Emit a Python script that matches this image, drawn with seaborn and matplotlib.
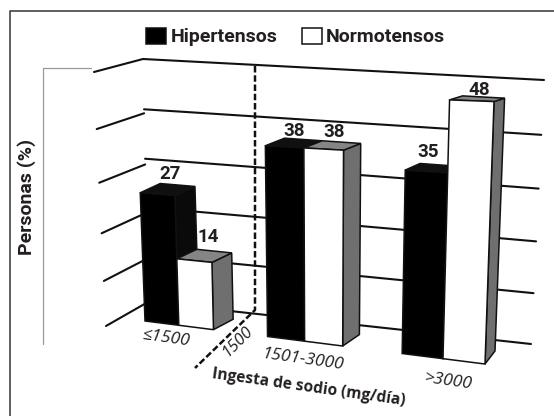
import numpy as np
import pandas as pd
import matplotlib
matplotlib.use('Agg')
import matplotlib.pyplot as plt
import seaborn as sns
from matplotlib.lines import Line2D
from matplotlib.patches import Polygon
from matplotlib.transforms import Affine2D, IdentityTransform, Transform

# Values
categories = ['≤1500', '1501-3000', '>3000']
hipertensos = [27, 38, 35]
normotensos = [14, 38, 48]
grid_levels = [0, 10, 20, 30, 40, 50]

W, H = 554, 416
BAR_WIDTH = 0.57
X_LO, X_HI = -BAR_WIDTH / 2, 2 + BAR_WIDTH / 2
V_TOP = grid_levels[-1]


class Plane(Transform):
    # maps (x, value) on a tilted plane to pixels, given the plane's 4 corners in image coords
    input_dims = output_dims = 2
    is_affine = False
    has_inverse = False

    def __init__(self, src, dst):
        super().__init__()
        A, b = [], []
        for (x, y), (u, v) in zip(src, dst):
            v = H - v
            A.append([x, y, 1, 0, 0, 0, -u * x, -u * y])
            A.append([0, 0, 0, x, y, 1, -v * x, -v * y])
            b += [u, v]
        self.m = np.append(np.linalg.solve(np.array(A, float), np.array(b, float)), 1).reshape(3, 3)

    def transform_non_affine(self, values):
        pts = np.column_stack([np.asarray(values, float), np.ones(len(values))]) @ self.m.T
        return pts[:, :2] / pts[:, 2:]


bar_corners = [(X_LO, 0), (X_HI, 0), (X_HI, V_TOP), (X_LO, V_TOP)]
wall_corners = [(0, 0), (1, 0), (1, V_TOP), (0, V_TOP)]

front_px = np.array([(145, 321), (485, 364), (494.4, 90), (136, 78)])
back_px = np.array([(165, 311), (495, 351), (505, 87), (156, 69)])

front = Plane(bar_corners, front_px)
back = Plane(bar_corners, back_px)
middle = Plane(bar_corners, (front_px + back_px) / 2)
wall = Plane(wall_corners, [(148, 302), (531, 344), (544, 80), (143, 59)])
side_wall = Plane(wall_corners, [(106, 326), (148, 302), (143, 59), (94, 72)])
pixels = Affine2D().scale(1, -1).translate(0, H)

df = pd.DataFrame({
    'Ingesta': categories * 2,
    'Grupo': ['Hipertensos'] * 3 + ['Normotensos'] * 3,
    'Personas': hipertensos + normotensos,
})

sns.set_style('white')
plt.rcParams['font.family'] = ['Roboto', 'DejaVu Sans']

fig = plt.figure(figsize=(W / 100, H / 100), dpi=100)
ax = fig.add_axes([0, 0, 1, 1])
sns.barplot(data=df, x='Ingesta', y='Personas', hue='Grupo', order=categories,
            palette=['black', 'white'], width=BAR_WIDTH, edgecolor='#111111',
            linewidth=1.1, saturation=1, ax=ax)
ax.set_xlim(-0.5, 2.5)
ax.set_ylim(0, V_TOP)

# bars are laid out by seaborn, then tilted onto the front plane with their depth faces added
top_colors = ['#101010', '#858585']
side_colors = ['#0a0a0a', '#6f6f6f']
# small shifts of the value labels, in points, one row per group
label_shift = [[(2, 5), (0, 2), (-4, 5)], [(3, 7), (1, 3), (1, 0)]]
for k, container in enumerate(ax.containers):
    for i, bar in enumerate(container):
        x0, x1, v = bar.get_x(), bar.get_x() + bar.get_width(), bar.get_height()
        bar.set_transform(front)
        bar.set_zorder(4 + 2 * k)
        f0, f1, f2 = front.transform([(x1, 0), (x1, v), (x0, v)])
        b0, b1, b2 = back.transform([(x1, 0), (x1, v), (x0, v)])
        ax.add_patch(Polygon([f0, f1, b1, b0], facecolor=side_colors[k], edgecolor='#111111',
                             linewidth=1.1, transform=IdentityTransform(), zorder=3 + 2 * k))
        ax.add_patch(Polygon([f2, f1, b1, b2], facecolor=top_colors[k], edgecolor='#111111',
                             linewidth=1.1, transform=IdentityTransform(), zorder=3 + 2 * k))
        ax.annotate(f'{v:.0f}', ((x0 + x1) / 2, v), xycoords=middle, xytext=label_shift[k][i],
                    textcoords='offset points', ha='center', va='bottom', fontsize=13.5,
                    fontweight='bold', color='#231f20', zorder=10)

# grid on the two walls
for level in grid_levels:
    ax.plot([0, 1], [level, level], color='#111111', lw=1.5, transform=wall, zorder=1,
            solid_capstyle='round')
    ax.plot([0, 1], [level, level], color='#111111', lw=1.5, transform=side_wall, zorder=1,
            solid_capstyle='round')

# dashed 1500 mg marker
ax.plot([255, 255, 195], [66, 310, 368], color='#111111', lw=1.8, ls=(0, (2.6, 1.1)),
        transform=pixels, zorder=2)

# grey bracket and frame
ax.plot([91, 43, 43], [68, 68, 344], color='#999999', lw=0.9, transform=pixels, zorder=1)
fig.add_artist(Line2D([9.5, 9.5, W], [H, 11, 11], color='#333333', lw=1.1, transform=pixels))

ax.set_axis_off()

sns.move_legend(ax, 'center', bbox_to_anchor=(295.5 / W, 1 - 37 / H), ncol=2, title=None,
                frameon=False, handlelength=1.05, handleheight=0.88, handletextpad=0.2,
                columnspacing=1.25, prop={'size': 14, 'weight': 'bold'}, labelcolor='#231f20')

# text around the plot
sans = ['Open Sans', 'DejaVu Sans']
label_pos = [(166, 338), (303, 360), (448, 381)]
for name, (px, py) in zip(categories, label_pos):
    ax.text(px, py, name, transform=pixels, rotation=-8, rotation_mode='anchor', ha='center',
            va='center', fontsize=12.5, style='italic', family=sans, color='#231f20')
ax.text(238, 341, '1500', transform=pixels, rotation=45, rotation_mode='anchor', ha='center',
        va='center', fontsize=12, style='italic', family=sans, color='#231f20')
ax.text(309, 388, 'Ingesta de sodio (mg/día)', transform=pixels, rotation=-8,
        rotation_mode='anchor', ha='center', va='center', fontsize=11.2, fontweight='bold',
        family=sans, color='#231f20')
ax.text(27, 197, 'Personas (%)', transform=pixels, rotation=90, ha='center', va='center',
        fontsize=14, fontweight='bold', color='#231f20')

fig.savefig('out.png', dpi=100)
